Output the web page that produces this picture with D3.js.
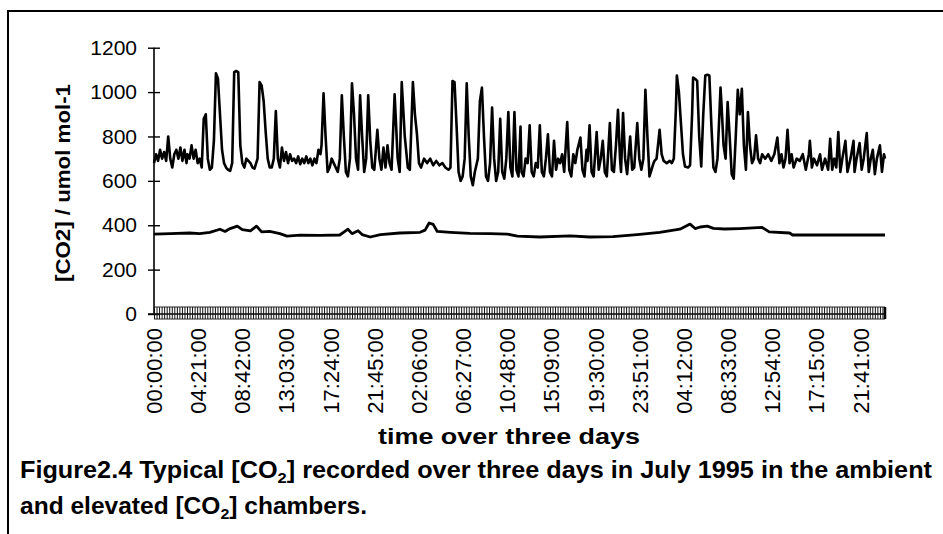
<!DOCTYPE html>
<html>
<head>
<meta charset="utf-8">
<script src="https://cdn.jsdelivr.net/npm/d3@7/dist/d3.min.js"></script>
<style>
  body { margin: 0; background: #fff; }
  svg { display: block; }
  text { fill: #000; }
</style>
</head>
<body>
<svg id="chart" width="943" height="534"></svg>
<script>
// Elapsed time (hours from 00:00:00) at which each category label is drawn
const tickHours = [0, 4.35, 8.7, 13.05, 17.4, 21.75, 26.1, 30.45, 34.8, 39.15,
                   43.5, 47.85, 52.2, 56.55, 60.9, 65.25, 69.6];
const tickLabels = ["00:00:00", "04:21:00", "08:42:00", "13:03:00", "17:24:00", "21:45:00",
                    "02:06:00", "06:27:00", "10:48:00", "15:09:00", "19:30:00", "23:51:00",
                    "04:12:00", "08:33:00", "12:54:00", "17:15:00", "21:41:00"];
const yTicks = [0, 200, 400, 600, 800, 1000, 1200];

// Elevated chamber [CO2] (umol mol-1): [elapsed hours, value]
const elevatedCO2 = [
  [0.0,680],[0.2,720],[0.4,690],[0.6,740],[0.8,700],[1.0,730],[1.2,690],[1.4,800],[1.6,700],[1.8,660],
  [2.0,720],[2.2,740],[2.4,700],[2.6,750],[2.8,690],[3.0,740],[3.2,680],[3.3,720],[3.5,700],[3.7,760],
  [3.9,700],[4.1,740],[4.3,680],[4.5,700],[4.7,660],[4.9,880],[5.1,900],[5.3,700],[5.5,650],[5.7,660],
  [5.9,780],[6.1,1085],[6.3,1060],[6.5,900],[6.7,740],[6.9,680],[7.1,660],[7.3,650],[7.5,645],[7.7,680],
  [7.9,1090],[8.1,1095],[8.3,1090],[8.5,760],[8.7,680],[8.9,660],[9.1,700],[9.3,690],[9.5,680],[9.7,660],
  [9.9,655],[10.2,700],[10.4,1045],[10.6,1030],[10.8,960],[11.0,820],[11.2,700],[11.4,660],[11.6,660],[11.8,700],
  [12.0,915],[12.2,700],[12.4,660],[12.6,750],[12.8,690],[13.0,730],[13.2,680],[13.4,720],[13.6,690],[13.8,700],
  [14.0,680],[14.2,710],[14.4,675],[14.6,700],[14.8,680],[15.0,710],[15.2,680],[15.4,700],[15.6,670],[15.8,700],
  [16.0,680],[16.2,740],[16.4,720],[16.5,760],[16.7,995],[16.9,800],[17.1,640],[17.3,660],[17.5,700],[17.7,680],
  [17.9,660],[18.1,640],[18.3,700],[18.5,985],[18.7,800],[18.9,640],[19.1,620],[19.3,700],[19.5,1040],[19.7,900],
  [19.9,700],[20.1,650],[20.3,985],[20.5,800],[20.7,640],[20.9,700],[21.1,985],[21.3,780],[21.5,660],[21.7,650],
  [22.0,830],[22.2,700],[22.4,650],[22.6,750],[22.8,660],[23.0,760],[23.2,680],[23.4,650],[23.7,990],[24.0,700],
  [24.2,640],[24.4,1045],[24.7,800],[25.0,660],[25.2,650],[25.5,1045],[25.7,900],[25.9,810],[26.1,680],[26.3,660],
  [26.6,700],[26.9,680],[27.2,700],[27.5,670],[27.8,690],[28.1,670],[28.4,680],[28.7,660],[29.0,650],[29.2,660],
  [29.4,1050],[29.6,1045],[29.8,850],[30.0,640],[30.2,600],[30.4,620],[30.6,700],[30.8,1040],[31.0,800],[31.2,620],
  [31.4,580],[31.6,640],[31.9,700],[32.1,960],[32.3,1020],[32.5,800],[32.7,620],[32.9,600],[33.1,680],[33.3,930],
  [33.5,700],[33.7,600],[33.9,640],[34.1,880],[34.3,640],[34.5,610],[34.7,700],[34.9,910],[35.1,660],[35.3,620],
  [35.5,910],[35.7,650],[35.9,620],[36.1,845],[36.2,640],[36.4,620],[36.6,700],[36.8,680],[37.0,850],[37.2,640],
  [37.4,620],[37.6,680],[37.8,660],[38.0,850],[38.2,640],[38.4,620],[38.6,700],[38.8,810],[39.0,640],[39.2,620],
  [39.4,780],[39.6,650],[39.8,700],[40.0,680],[40.2,720],[40.4,640],[40.7,865],[40.9,650],[41.1,620],[41.3,720],
  [41.5,680],[41.7,740],[42.0,795],[42.2,650],[42.4,620],[42.6,740],[42.7,690],[42.9,850],[43.1,640],[43.3,620],
  [43.6,820],[43.8,650],[44.0,700],[44.2,780],[44.4,640],[44.6,620],[44.9,860],[45.1,650],[45.3,640],[45.5,760],
  [45.7,920],[45.9,700],[46.0,640],[46.2,905],[46.4,700],[46.6,630],[46.9,800],[47.1,650],[47.3,660],[47.6,860],
  [47.8,700],[48.0,650],[48.2,700],[48.4,1010],[48.6,800],[48.8,620],[49.0,650],[49.2,680],[49.3,690],[49.5,700],
  [49.8,830],[50.0,720],[50.2,690],[50.5,680],[50.8,690],[51.0,680],[51.2,700],[51.4,920],[51.5,1075],[51.7,1000],
  [51.9,860],[52.1,720],[52.3,665],[52.6,660],[52.8,670],[53.0,900],[53.1,1065],[53.3,1060],[53.5,1050],[53.7,800],
  [53.9,665],[54.1,900],[54.3,1075],[54.5,1078],[54.7,1075],[54.9,850],[55.1,660],[55.3,640],[55.5,700],[55.8,1020],
  [55.9,940],[56.1,760],[56.3,700],[56.5,955],[56.7,800],[56.9,630],[57.1,610],[57.3,800],[57.5,1010],[57.7,900],
  [57.9,1015],[58.1,760],[58.3,650],[58.5,910],[58.7,760],[58.9,680],[59.1,700],[59.3,805],[59.5,700],[59.7,680],
  [59.9,720],[60.2,700],[60.5,720],[60.8,690],[61.1,720],[61.4,795],[61.6,680],[61.8,720],[62.0,660],[62.2,700],
  [62.4,830],[62.6,680],[62.8,720],[63.0,660],[63.3,700],[63.6,690],[63.9,720],[64.2,650],[64.5,720],[64.6,780],
  [64.8,660],[65.0,700],[65.3,670],[65.6,720],[65.8,650],[66.1,700],[66.4,650],[66.6,790],[66.8,650],[67.0,700],
  [67.2,660],[67.4,820],[67.6,640],[67.8,700],[68.1,780],[68.3,640],[68.6,700],[68.9,780],[69.0,640],[69.2,700],
  [69.5,770],[69.7,650],[69.9,700],[70.2,815],[70.4,640],[70.6,700],[70.8,740],[71.0,630],[71.2,700],[71.5,760],
  [71.7,640],[71.9,720],[72.0,700]
];

// Ambient chamber [CO2] (umol mol-1): [elapsed hours, value]
const ambientCO2 = [
  [0.0,360],[1.6,362],[3.5,365],[4.5,362],[5.5,368],[6.5,382],[7.0,372],[7.5,385],[8.2,396],[8.7,380],
  [9.5,375],[10.1,396],[10.6,370],[11.4,372],[12.4,362],[13.1,351],[14.4,355],[16.4,354],[18.3,356],[18.8,372],
  [19.1,382],[19.5,362],[20.1,375],[20.5,358],[21.3,347],[22.3,358],[24.2,365],[26.2,368],[26.7,378],[27.1,410],
  [27.5,404],[27.9,372],[29.2,368],[31.1,363],[33.1,362],[34.8,360],[35.8,351],[38.0,347],[41.0,352],[42.9,347],
  [45.2,349],[47.6,358],[49.8,368],[51.8,382],[52.8,405],[53.3,385],[53.8,392],[54.5,396],[55.1,386],[56.2,383],
  [57.7,385],[59.9,390],[60.6,370],[62.6,365],[62.9,356],[72.0,356]
];

// Category tick marks along the time axis (one per logged interval)
const categoryStepHours = 0.25;

const svg = d3.select("#chart");
const font = "'Liberation Sans', Arial, Helvetica, sans-serif";

// Outer frame (top and left edges)
svg.append("path")
  .attr("d", "M8,534V11H943")
  .attr("fill", "none").attr("stroke", "#000").attr("stroke-width", 2);

const x = d3.scaleLinear().domain([0, 72]).range([154, 885]);
const y = d3.scaleLinear().domain([0, 1200]).range([314, 47.7]);

// Y axis
const yAxis = svg.append("g")
  .attr("transform", `translate(${x(0)},0)`)
  .call(d3.axisLeft(y).tickValues(yTicks).tickFormat(d3.format("d")).tickSize(6));
yAxis.select(".domain").attr("stroke-width", 1.6).attr("d", `M0,${y(1200)}V${y(0)}`);
yAxis.selectAll(".tick line").attr("x1", -6).attr("x2", 6).attr("stroke-width", 1.4);
yAxis.selectAll(".tick text")
  .attr("font-family", font).attr("font-size", 21).attr("x", -17);

// X axis: dense category ticks crossing the baseline
const catTicks = d3.range(0, 72 + 1e-9, categoryStepHours);
const xAxis = svg.append("g")
  .attr("transform", `translate(0,${y(0)})`)
  .call(d3.axisBottom(x).tickValues(catTicks).tickSize(5).tickFormat(""));
xAxis.select(".domain").attr("stroke-width", 1.6).attr("d", `M${x(0) - 6},0H${x(72)}`);
xAxis.selectAll(".tick line").attr("y1", -7).attr("y2", 5).attr("stroke", "#111").attr("stroke-width", 1);
xAxis.append("path")
  .attr("d", `M${x(0)},-7H${x(72)}M${x(0)},5H${x(72)}`)
  .attr("stroke", "#222").attr("stroke-width", 1).attr("fill", "none");
xAxis.append("line")
  .attr("x1", x(72)).attr("x2", x(72)).attr("y1", -7).attr("y2", 5)
  .attr("stroke", "#000").attr("stroke-width", 2.5);

// Rotated time labels
svg.append("g").selectAll("text")
  .data(tickHours)
  .join("text")
  .attr("transform", d => `translate(${x(d)},328) rotate(-90)`)
  .attr("dy", "0.36em")
  .attr("text-anchor", "end")
  .attr("font-family", font).attr("font-size", 22)
  .text((d, i) => tickLabels[i]);

// Series lines
const line = d3.line().x(d => x(d[0])).y(d => y(d[1]));
svg.append("path").datum(ambientCO2)
  .attr("d", line).attr("fill", "none").attr("stroke", "#000")
  .attr("stroke-width", 2.8).attr("stroke-linejoin", "round");
svg.append("path").datum(elevatedCO2)
  .attr("d", line).attr("fill", "none").attr("stroke", "#000")
  .attr("stroke-width", 2.6).attr("stroke-linejoin", "round");

// Axis titles
svg.append("text")
  .attr("transform", "translate(70,183) rotate(-90)")
  .attr("text-anchor", "middle")
  .attr("font-family", font).attr("font-weight", "bold").attr("font-size", 21)
  .attr("textLength", 198).attr("lengthAdjust", "spacingAndGlyphs")
  .text("[CO2] / umol mol-1");

svg.append("text")
  .attr("x", 509).attr("y", 444)
  .attr("text-anchor", "middle")
  .attr("font-family", font).attr("font-weight", "bold").attr("font-size", 22)
  .attr("textLength", 262).attr("lengthAdjust", "spacingAndGlyphs")
  .text("time over three days");

// Figure caption with subscripted CO2
const capFont = "'Liberation Sans Narrow', 'Arial Narrow', 'Liberation Sans', Arial, sans-serif";
function caption(yPos, parts, width) {
  const t = svg.append("text")
    .attr("x", 20).attr("y", yPos)
    .attr("font-family", capFont).attr("font-weight", "bold").attr("font-size", 23)
    .attr("textLength", width).attr("lengthAdjust", "spacingAndGlyphs");
  parts.forEach(p => {
    const s = t.append("tspan").text(p.text);
    if (p.sub) s.attr("font-size", 15).attr("dy", 5);
    if (p.up) s.attr("dy", -5);
  });
}
caption(478, [
  { text: "Figure2.4 Typical [CO" }, { text: "2", sub: true },
  { text: "] recorded over three days in July 1995 in the ambient", up: true }
], 912);
caption(514, [
  { text: "and elevated [CO" }, { text: "2", sub: true },
  { text: "] chambers.", up: true }
], 347);
</script>
</body>
</html>
